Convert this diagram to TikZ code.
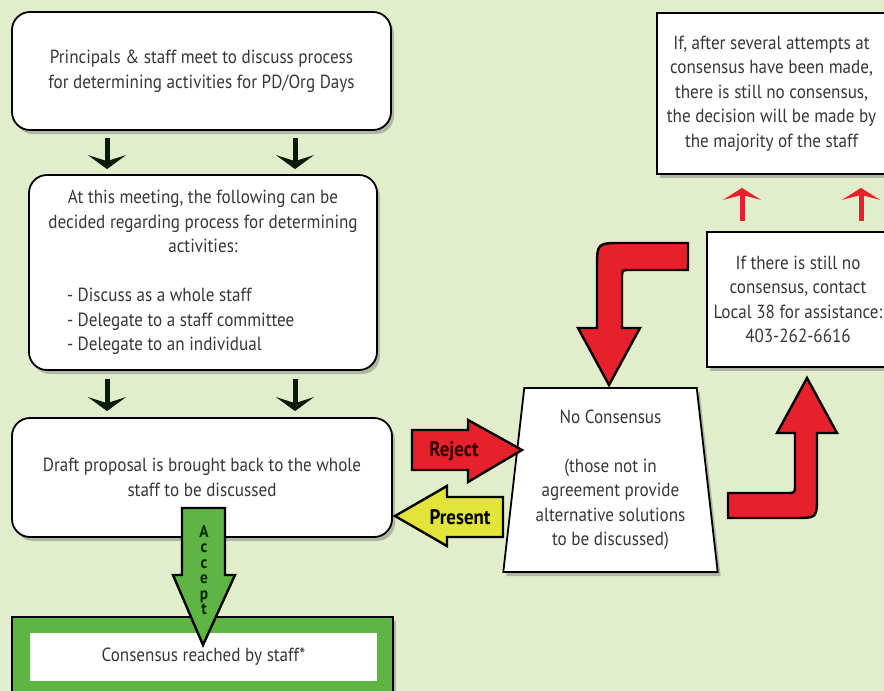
\documentclass[tikz,border=0pt]{standalone}
\usepackage{fontspec}
\setmainfont{PT Sans}[FakeStretch=0.9]
\usetikzlibrary{positioning,shapes.geometric,shadows,arrows.meta}

\definecolor{bggreen}{RGB}{226,237,203}
\definecolor{accgreen}{RGB}{94,181,68}
\definecolor{rejred}{RGB}{230,33,43}
\definecolor{presyellow}{RGB}{226,228,58}
\definecolor{txtgrey}{RGB}{55,55,55}
\definecolor{arrdark}{RGB}{10,26,8}

\tikzset{
  box/.style={draw,line width=1.8pt,fill=white,text=txtgrey,align=center,inner sep=0pt,
    font=\fontsize{19}{24.5}\selectfont,
    drop shadow={shadow xshift=3pt,shadow yshift=-4pt,opacity=.5}},
  rbox/.style={box,rounded corners=18pt},
  darr/.style={draw=arrdark,line width=5pt,-{Stealth[width=38pt,length=14pt,inset=6pt]}},
  redarr/.style={draw=rejred,line width=5pt,-{Stealth[width=38pt,length=12pt,inset=5pt]}},
  fatarr/.style={draw=black,line width=2.4pt,line join=miter},
  tag/.style={font=\bfseries\fontsize{21}{22}\selectfont,inner sep=0pt}
}

\begin{document}
\begin{tikzpicture}[x=1pt,y=-1pt]
\useasboundingbox (0,0) rectangle (884,691);
\clip (0,0) rectangle (884,691);
\fill[bggreen] (0,0) rectangle (884,691);

\node[rbox,minimum width=379pt,minimum height=118pt] (meet) at (201.5,71)
  {Principals \& staff meet to discuss process\\for determining activities for PD/Org Days};
\node[rbox,minimum width=348pt,minimum height=195pt] (decide) at (203,272.5)
  {At this meeting, the following can be\\decided regarding process for determining\\activities:\\[24.5pt]
   \makebox[272pt][l]{- Discuss as a whole staff}\\
   \makebox[272pt][l]{- Delegate to a staff committee}\\
   \makebox[272pt][l]{- Delegate to an individual}};
\node[rbox,minimum width=380pt,minimum height=119pt] (draft) at (202,477.5)
  {Draft proposal is brought back to the whole\\staff to be discussed};

\node[box,trapezium,trapezium stretches=true,trapezium left angle=82.6,trapezium right angle=82.6,
  minimum width=215pt,minimum height=184pt] (nocons) at (610.5,480)
  {No Consensus\\[24.5pt](those not in\\agreement provide\\alternative solutions\\to be discussed)};

\node[box,minimum width=229pt,minimum height=161pt] (majority) at (771.5,93.5)
  {If, after several attempts at\\consensus have been made,\\there is still no consensus,\\the decision will be made by\\the majority of the staff};
\node[box,minimum width=182pt,minimum height=135pt] (local) at (798,299.5)
  {If there is still no\\consensus, contact\\Local 38 for assistance:\\403-262-6616};

\node[draw,line width=1.2pt,fill=accgreen,minimum width=381pt,minimum height=80pt,
  drop shadow={shadow xshift=3pt,shadow yshift=-4pt,opacity=.5}] (frame) at (202.5,657) {};
\node[fill=white,text=txtgrey,minimum width=347pt,minimum height=48pt,
  font=\fontsize{19}{24.5}\selectfont] (reached) at (203.5,657) {Consensus reached by staff*};

\foreach \x in {107,295} {
  \coordinate (col) at (\x,0);
  \draw[darr] ([yshift=-7pt]meet.south -| col) -- ([yshift=5pt]decide.north -| col);
  \draw[darr] ([yshift=-8pt]decide.south -| col) -- ([yshift=6pt]draft.north -| col);
}
\foreach \x in {742,861} {
  \coordinate (col) at (\x,0);
  \draw[redarr] ([yshift=10pt]local.north -| col) -- ([yshift=-13pt]majority.south -| col);
}

\filldraw[fatarr,fill=rejred] (412,430) -- (468,430) -- (468,420) -- (522,450) -- (468,482) -- (468,470) -- (412,470) -- cycle;
\node[tag,text=black!80!red] (reject) at (454,451) {Reject};
\filldraw[fatarr,fill=presyellow] (503,497) -- (447,497) -- (447,486) -- (395,516) -- (447,546) -- (447,537) -- (503,537) -- cycle;
\node[tag] (present) at (460,517) {Present};
\filldraw[fatarr,fill=accgreen] (182,508) -- (225,508) -- (225,575) -- (235,575) -- (203,645) -- (173,575) -- (182,575) -- cycle;
\node[tag,align=center,text=black!85!green,font=\bfseries\fontsize{17}{15.5}\selectfont] (accept) at (204,570) {A\\c\\c\\e\\p\\t};

\filldraw[fatarr,fill=rejred] (688,243) -- (622,243) .. controls (597,243) .. (597,268) -- (597,328) -- (578,328)
  -- (609,385) -- (640,328) -- (622,328) -- (622,278) .. controls (622,270) .. (630,270) -- (688,270) -- cycle;
\filldraw[fatarr,fill=rejred] (728,493) -- (787,493) .. controls (795,493) .. (795,485) -- (795,433) -- (777,433)
  -- (807,378) -- (837,433) -- (817,433) -- (817,496) .. controls (817,518) .. (795,518) -- (728,518) -- cycle;
\end{tikzpicture}
\end{document}
